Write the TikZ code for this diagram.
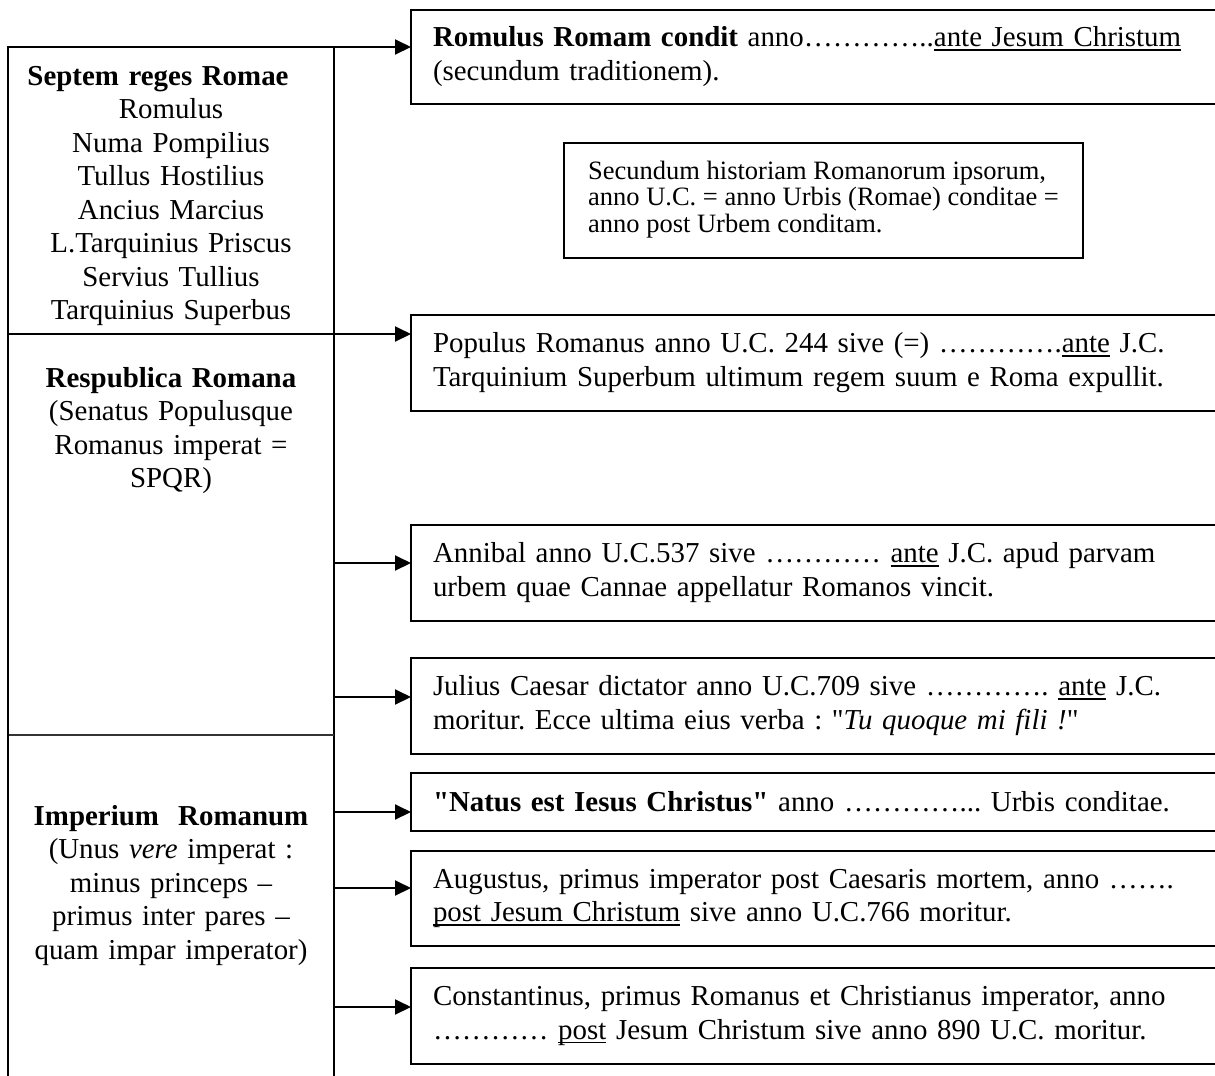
\documentclass[tikz,border=0pt]{standalone}
\usepackage{fontspec}
\setmainfont{Liberation Serif}[Ligatures=TeXOff]
\usetikzlibrary{arrows.meta}
\newcommand\mainsz{\fontsize{11.56pt}{13.4pt}\selectfont\lineskiplimit=-20pt\relax\frenchspacing}
\newcommand\smallsz{\fontsize{10.6pt}{10.5pt}\selectfont\lineskiplimit=-20pt\relax\frenchspacing}
\newsavebox\ulbox
\newcommand\myul[1]{\leavevmode\sbox\ulbox{#1}\rlap{\rule[-1.5pt]{\wd\ulbox}{0.5pt}}\usebox\ulbox}
\begin{document}
\begin{tikzpicture}[x=0.4pt,y=-0.4pt,
  thinln/.style={line width=0.6pt},
  arr/.style={line width=0.8pt,-{Triangle[length=6.4pt,width=6pt]}},
  evbox/.style={draw,line width=0.8pt,outer sep=0pt,anchor=north west,inner xsep=8.8pt,inner ysep=0pt,text width=320pt,align=left,font=\mainsz},
  blk/.style={anchor=north,inner sep=0pt,text width=130pt,align=center,font=\mainsz}]
\useasboundingbox (0,0) rectangle (1215,1075);
\clip (0,0) rectangle (1215,1075);

% left structure coordinates
\coordinate (tl) at (8,47);
\coordinate (bl) at (8,1080);
\coordinate (vt) at (334,47);
\coordinate (vb) at (334,1080);
\coordinate (m1) at (8,334);
\coordinate (m2) at (8,735);
\coordinate (m2v) at (334,735);
\coordinate (a3) at (334,563);
\coordinate (a4) at (334,697);
\coordinate (a5) at (334,812);
\coordinate (a6) at (334,888);
\coordinate (a7) at (334,1007);

% event boxes
\node[evbox,minimum height=37.6pt] (b1) at (411,10)
  {\strut\textbf{Romulus Romam condit} anno…………..\myul{ante Jesum Christum}\\(secundum traditionem).\strut};
\node[draw,line width=0.8pt,outer sep=0pt,anchor=north west,minimum width=207.6pt,minimum height=46pt,inner sep=0pt,align=left,font=\smallsz] (bc) at (564,143)
  {\strut Secundum historiam Romanorum ipsorum,\\anno U.C. = anno Urbis (Romae) conditae =\\anno post Urbem conditam.\strut};
\node[evbox,minimum height=38.4pt] (b2) at (411,315)
  {\strut Populus Romanus anno U.C. 244 sive (=) ………….\myul{ante} J.C.\\Tarquinium Superbum ultimum regem suum e Roma expullit.\strut};
\node[evbox,minimum height=38.4pt] (b3) at (411,525)
  {\strut Annibal anno U.C.537 sive ………… \myul{ante} J.C. apud parvam\\urbem quae Cannae appellatur Romanos vincit.\strut};
\node[evbox,minimum height=38.4pt] (b4) at (411,658)
  {\strut Julius Caesar dictator anno U.C.709 sive …………. \myul{ante} J.C.\\moritur. Ecce ultima eius verba : "\textit{Tu quoque mi fili !}"\strut};
\node[evbox,minimum height=23.2pt] (b5) at (411,773)
  {\rule{0pt}{11.8pt}\textbf{"Natus est Iesus Christus"} anno …………... Urbis conditae.\strut};
\node[evbox,minimum height=38pt] (b6) at (411,851)
  {\strut Augustus, primus imperator post Caesaris mortem, anno …….\\\myul{post Jesum Christum} sive anno U.C.766 moritur.\strut};
\node[evbox,minimum height=38.4pt] (b7) at (411,968)
  {\strut Constantinus, primus Romanus et Christianus imperator, anno\\………… \myul{post} Jesum Christum sive anno 890 U.C. moritur.\strut};

% left column texts
\node[blk] (kings) at (171,61.5)
  {\strut\textbf{Septem reges Romae}\hbox to 10.4pt{\hfil}\\Romulus\\Numa Pompilius\\Tullus Hostilius\\Ancius Marcius\\L.Tarquinius Priscus\\Servius Tullius\\Tarquinius Superbus};
\node[blk] (resp) at (171,363.5)
  {\strut\textbf{Respublica Romana}\\(Senatus Populusque\\Romanus imperat =\\SPQR)};
\node[blk] (imp) at (171,801.5)
  {\strut\textbf{Imperium\ \ Romanum}\\(Unus \textit{vere} imperat :\\minus princeps –\\primus inter pares –\\quam impar imperator)};

% left frame and dividers
\draw[thinln] (vt) -- (vb);
\draw[thinln,black!80] (m2) -- (m2v);
\draw[arr] (bl) -- (tl) -- (b1.west |- tl);
\draw[arr] (m1) -- (b2.west |- m1);
\draw[arr] (a3) -- (b3.west |- a3);
\draw[arr] (a4) -- (b4.west |- a4);
\draw[arr] (a5) -- (b5.west |- a5);
\draw[arr] (a6) -- (b6.west |- a6);
\draw[arr] (a7) -- (b7.west |- a7);
\end{tikzpicture}
\end{document}
